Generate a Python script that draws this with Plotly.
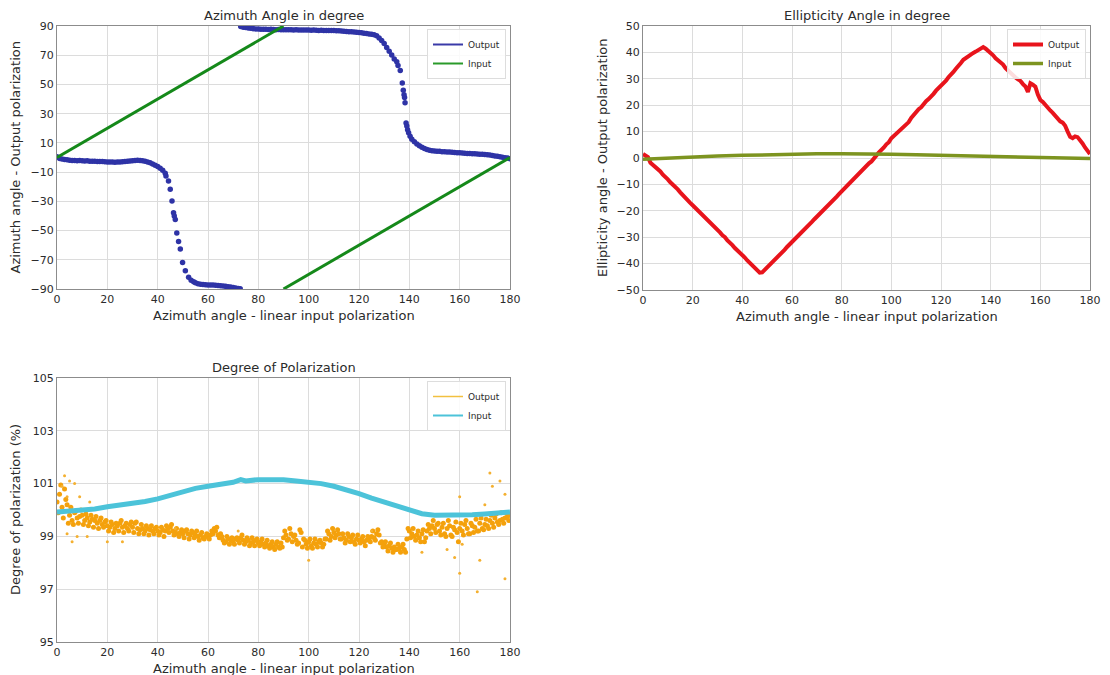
import plotly.graph_objects as go

# ---------------- Azimuth angle ----------------
# linear input polarization (wrapped to [-90, 90])
az_in_x = [0, 90, None, 90, 180]
az_in_y = [0, 90, None, -90, 0]

# measured output azimuth
az_out_x = [
    0, 1, 2, 3, 4, 5, 6, 7, 8, 9,
    10, 11, 12, 13, 14, 15, 16, 17, 18, 19,
    20, 21, 22, 23, 24, 25, 26, 27, 28, 29,
    30, 31, 32, 33, 34, 35, 36, 37, 38, 39,
    40, 41, 42, 43, 43.3, 44.3, 45, 45.7, 46.3, 46.6,
    47, 47.6, 48.3, 49, 49.9, 51, 52.3, 53.3, 54.3, 55,
    56, 57, 58, 59, 60, 61, 62, 63, 64, 65,
    66, 67, 68, 69, 70, 71, 72, 72.8, 73, 74,
    75, 76, 77, 78, 79, 80, 81, 82, 83, 84,
    85, 86, 87, 88, 89, 90, 91, 92, 93, 94,
    95, 96, 97, 98, 99, 100, 101, 102, 103, 104,
    105, 106, 107, 108, 109, 110, 111, 112, 113, 114,
    115, 116, 117, 118, 119, 120, 121, 122, 123, 124,
    125, 126, 127, 128, 129, 130, 131, 132, 133, 134,
    135, 135.5, 136.4, 137.2, 137.6, 137.9, 138.1, 138.3, 138.7, 139,
    139.3, 139.7, 140.3, 141, 142, 143, 144, 145, 146, 147,
    148, 149, 150, 151, 152, 153, 154, 155, 156, 157,
    158, 159, 160, 161, 162, 163, 164, 165, 166, 167,
    168, 169, 170, 171, 172, 173, 174, 175, 176, 177,
    178, 179, 180,
]
az_out_y = [
    0.5, -0.6, -1.1, -1.4, -1.6, -1.8, -2.0, -2.0, -2.2, -2.1,
    -2.3, -2.4, -2.3, -2.5, -2.6, -2.5, -2.7, -2.8, -2.7, -2.9,
    -3.0, -3.1, -3.0, -3.2, -3.1, -3.0, -2.9, -2.8, -2.6, -2.4,
    -2.2, -2.0, -1.9, -2.0, -2.2, -2.5, -3.0, -3.6, -4.4, -5.3,
    -6.2, -7.3, -8.7, -10.8, -12.7, -16.0, -21.8, -29.8, -37.8, -40.0,
    -42.5, -51.6, -57.5, -62.7, -71.8, -77.5, -82.0, -84.0, -85.0, -85.8,
    -86.4, -86.7, -86.9, -87.1, -87.2, -87.3, -87.3, -87.5, -87.6, -87.8,
    -88.0, -88.2, -88.5, -88.7, -89.0, -89.3, -89.6, -89.9, 89.6, 89.2,
    88.9, 88.6, 88.4, 88.2, 88.0, 87.9, 87.8, 87.8, 87.7, 87.6,
    87.7, 87.6, 87.5, 87.6, 87.5, 87.4, 87.5, 87.4, 87.4, 87.3,
    87.4, 87.3, 87.2, 87.3, 87.2, 87.2, 87.1, 87.2, 87.1, 87.0,
    87.1, 87.0, 87.0, 86.9, 87.0, 86.9, 86.8, 86.7, 86.6, 86.4,
    86.3, 86.1, 86.0, 85.9, 85.7, 85.6, 85.3, 85.0, 84.8, 84.5,
    84.3, 84.0, 83.4, 81.8, 80.0, 78.0, 75.2, 72.8, 70.2, 67.5,
    65.5, 63.0, 59.5, 51.0, 46.0, 43.0, 41.0, 37.5, 23.6, 21.5,
    19.0, 17.0, 14.5, 12.5, 10.8, 9.3, 8.0, 7.0, 6.2, 5.5,
    5.0, 4.7, 4.5, 4.3, 4.2, 4.0, 3.9, 3.8, 3.7, 3.6,
    3.5, 3.3, 3.2, 3.0, 2.9, 2.8, 2.7, 2.6, 2.5, 2.4,
    2.3, 2.2, 2.1, 1.9, 1.7, 1.4, 1.1, 0.8, 0.5, 0.2,
    -0.1, -0.4, -0.8,
]

# ---------------- Ellipticity angle ----------------
ell_in_x = [0, 10, 20, 30, 40, 50, 60, 70, 80, 90, 95, 100, 110, 120, 130, 140, 150, 160, 170, 180]
ell_in_y = [-0.5, 0.0, 0.4, 0.8, 1.0, 1.3, 1.5, 1.6, 1.6, 1.6, 1.6, 1.4, 1.2, 1.0, 0.8, 0.6, 0.4, 0.1, -0.1, -0.2]

ell_out_x = list(range(0, 181))
ell_out_y = [
    1.5, 1.0, 0.3, -1.8, -2.6, -3.2, -4.3, -5.1, -6.3, -7.0,
    -8.1, -9.2, -10.0, -11.2, -11.9, -13.0, -14.1, -15.0, -15.8, -17.0,
    -17.9, -18.8, -20.0, -20.7, -21.8, -22.6, -23.6, -24.6, -25.4, -26.5,
    -27.4, -28.2, -29.3, -30.0, -31.2, -32.0, -33.0, -34.1, -34.9, -35.9,
    -36.9, -37.7, -38.8, -39.7, -40.6, -41.6, -42.6, -43.4, -43.3, -42.4,
    -41.4, -40.5, -39.4, -38.6, -37.5, -36.7, -35.6, -34.8, -33.7, -32.8,
    -31.9, -30.8, -30.0, -28.9, -28.0, -27.1, -26.0, -25.2, -24.2, -23.2,
    -22.3, -21.3, -20.4, -19.5, -18.4, -17.6, -16.5, -15.6, -14.6, -13.6,
    -12.6, -11.8, -10.7, -9.8, -8.8, -7.9, -6.9, -6.0, -5.0, -4.1,
    -3.1, -2.0, -1.3, 0.1, 1.0, 2.1, 2.9, 4.0, 5.2, 6.0,
    7.5, 8.4, 9.0, 10.2, 11.0, 11.8, 12.9, 13.6, 15.2, 16.4,
    17.3, 18.5, 19.2, 20.5, 21.5, 22.3, 23.6, 24.3, 25.5, 26.4,
    27.4, 28.5, 29.3, 30.6, 31.4, 32.6, 33.8, 34.7, 36.0, 37.2,
    37.9, 38.6, 39.4, 39.8, 40.3, 40.9, 41.5, 42.0, 41.4, 40.7,
    39.8, 38.9, 37.8, 37.0, 36.1, 35.4, 34.0, 33.0, 32.1, 31.2,
    30.5, 29.8, 29.2, 28.0, 27.1, 25.0, 28.3, 27.8, 27.0, 24.0,
    22.0, 21.2, 20.0, 19.1, 18.0, 17.1, 16.0, 15.0, 13.9, 13.4,
    12.2, 10.0, 8.0, 7.5, 8.2, 7.9, 6.8, 5.5, 4.0, 2.8,
    1.5,
]

# ---------------- Degree of polarization ----------------
dop_in_x = [0, 5, 10, 15, 20, 25, 30, 35, 40, 45, 50, 55, 60, 65, 70, 73, 75, 80, 85, 90,
            95, 100, 105, 110, 115, 120, 125, 130, 135, 140, 145, 150, 155, 160, 165, 170, 175, 180]
dop_in_y = [99.92, 99.95, 99.98, 100.04, 100.12, 100.18, 100.25, 100.32, 100.42, 100.55,
            100.7, 100.82, 100.9, 100.98, 101.05, 101.15, 101.1, 101.15, 101.17, 101.15,
            101.1, 101.07, 101.0, 100.9, 100.78, 100.62, 100.45, 100.3, 100.15, 100.0,
            99.86, 99.8, 99.8, 99.8, 99.82, 99.85, 99.88, 99.92]

# output DOP sampled on whole degrees ...
dop_out_x = list(range(0, 181))
dop_out_y = [
    100.3, 100.6, 100.1, 100.8, 100.2, 99.8, 99.6, 99.9, 99.7, 99.75,
    99.8, 99.6, 99.7, 99.55, 99.65, 99.6, 99.5, 99.6, 99.45, 99.55,
    99.4, 99.35, 99.45, 99.3, 99.4, 99.5, 99.35, 99.4, 99.3, 99.45,
    99.35, 99.5, 99.3, 99.25, 99.3, 99.2, 99.3, 99.25, 99.2, 99.3,
    99.2, 99.15, 99.25, 99.2, 99.3, 99.35, 99.2, 99.15, 99.1, 99.15,
    99.1, 99.2, 99.1, 99.05, 99.15, 99.05, 99.0, 99.05, 98.95, 99.0,
    99.0, 99.05, 99.1, 99.2, 99.05, 99.1, 98.85, 98.8, 98.9, 98.85,
    98.8, 98.9, 98.85, 98.95, 98.85, 98.8, 98.85, 98.75, 98.8, 98.85,
    98.75, 98.8, 98.7, 98.75, 98.65, 98.7, 98.6, 98.7, 98.6, 98.75,
    98.95, 99.05, 98.9, 99.1, 99.0, 98.85, 98.75, 99.15, 98.9, 98.7,
    98.8, 98.65, 98.75, 98.7, 98.8, 98.75, 98.7, 98.9, 99.1, 99.0,
    99.15, 99.05, 99.1, 98.9, 98.95, 98.85, 99.0, 98.95, 98.8, 98.9,
    98.85, 98.9, 98.8, 98.85, 98.9, 99.0, 98.95, 99.1, 99.05, 98.8,
    98.7, 98.6, 98.65, 98.55, 98.6, 98.5, 98.55, 98.6, 98.5, 98.9,
    99.2, 99.1, 99.0, 99.05, 98.95, 99.1, 98.8, 99.2, 99.3, 99.4,
    99.3, 99.45, 99.2, 99.35, 99.1, 99.3, 99.4, 99.0, 99.25, 99.15,
    99.3, 99.2, 99.45, 99.3, 99.1, 99.4, 99.35, 99.2, 99.5, 99.3,
    99.45, 99.4, 99.6, 99.5, 99.7, 99.55, 99.6, 99.65, 99.7, 99.75,
    99.8,
]
# ... and on half degrees
dop_half_x = [k + 0.5 for k in range(0, 180)]
dop_half_y = [
    99.9, 100.95, 99.7, 100.4, 99.5, 100.1, 99.45, 99.95, 99.5, 100.0,
    99.45, 99.85, 99.4, 99.8, 99.35, 99.75, 99.3, 99.7, 99.35, 99.6,
    99.2, 99.55, 99.15, 99.5, 99.2, 99.6, 99.15, 99.5, 99.2, 99.55,
    99.15, 99.55, 99.1, 99.45, 99.1, 99.4, 99.05, 99.4, 99.1, 99.35,
    99.05, 99.35, 99.0, 99.4, 99.15, 99.45, 99.05, 99.3, 99.0, 99.25,
    98.95, 99.25, 98.9, 99.2, 98.95, 99.2, 98.85, 99.15, 98.9, 99.1,
    98.9, 99.2, 99.3, 99.35, 98.95, 99.0, 98.75, 99.0, 98.7, 98.95,
    98.7, 98.95, 98.75, 99.05, 98.7, 98.95, 98.65, 98.95, 98.65, 98.9,
    98.65, 98.9, 98.6, 98.85, 98.55, 98.8, 98.5, 98.8, 98.55, 98.6,
    99.2, 98.85, 99.3, 98.8, 99.05, 98.7, 99.25, 98.6, 98.85, 98.55,
    98.9, 98.55, 98.9, 98.6, 98.85, 98.6, 98.9, 99.2, 98.85, 99.3,
    98.95, 99.25, 98.9, 99.1, 98.75, 99.1, 98.8, 99.05, 98.7, 99.05,
    98.75, 99.0, 98.65, 99.0, 98.8, 99.2, 98.85, 99.25, 98.75, 98.6,
    98.8, 98.45, 98.75, 98.4, 98.5, 98.7, 98.4, 98.7, 98.4, 99.3,
    98.95, 99.3, 98.85, 99.2, 98.8, 99.25, 98.95, 99.45, 99.1, 99.6,
    99.15, 99.5, 99.05, 99.5, 99.0, 99.6, 99.05, 99.35, 99.55, 98.8,
    99.5, 99.05, 99.6, 99.1, 99.5, 99.15, 99.65, 99.2, 99.7, 99.25,
    99.65, 99.3, 99.8, 99.35, 99.85, 99.45, 99.9, 99.5, 99.9, 99.6,
]
# isolated readings away from the main band
dop_out_extra_x = [2, 3, 4, 5, 7, 9, 13, 6, 12, 20, 26, 47, 72, 100, 125, 145, 155,
                   158, 160, 160, 165, 167, 168, 172, 173, 176, 178, 178, 4, 8, 161, 170]
dop_out_extra_y = [100.9, 101.3, 100.5, 101.1, 101.0, 100.5, 100.3, 98.8, 99.0, 98.8, 98.8,
                   99.3, 99.2, 98.1, 99.2, 98.4, 98.5, 98.2, 97.6, 100.5, 99.8, 96.9,
                   98.1, 101.4, 100.9, 101.1, 97.4, 100.6, 99.1, 99.0, 98.7, 100.2]

x_ticks = [0, 20, 40, 60, 80, 100, 120, 140, 160, 180]
az_ticks = [-90, -70, -50, -30, -10, 10, 30, 50, 70, 90]
ell_ticks = [-50, -40, -30, -20, -10, 0, 10, 20, 30, 40, 50]
dop_ticks = [95, 97, 99, 101, 103, 105]

FONT = "DejaVu Sans"
TXT = "#2b2b2b"
W, H = 1110, 675

fig = go.Figure()

# --- panel 1: azimuth
fig.add_trace(go.Scatter(x=az_out_x, y=az_out_y, mode="markers", xaxis="x", yaxis="y",
                         marker=dict(color="#2e33a6", size=5.5), showlegend=False))
fig.add_trace(go.Scatter(x=az_in_x, y=az_in_y, mode="lines", xaxis="x", yaxis="y",
                         line=dict(color="#15891a", width=3), showlegend=False))
fig.add_trace(go.Scatter(x=[None], y=[None], mode="lines", name="Output", xaxis="x", yaxis="y",
                         line=dict(color="#3a3aa8", width=2), legend="legend"))
fig.add_trace(go.Scatter(x=[None], y=[None], mode="lines", name="Input", xaxis="x", yaxis="y",
                         line=dict(color="#2a9a2a", width=2), legend="legend"))

# --- panel 2: ellipticity
fig.add_trace(go.Scatter(x=ell_out_x, y=ell_out_y, mode="lines", name="Output", xaxis="x2", yaxis="y2",
                         line=dict(color="#e8141c", width=4), legend="legend2"))
fig.add_trace(go.Scatter(x=ell_in_x, y=ell_in_y, mode="lines", name="Input", xaxis="x2", yaxis="y2",
                         line=dict(color="#7d9420", width=3.5), legend="legend2"))

# --- panel 3: degree of polarization
for xs, ys in ((dop_out_x, dop_out_y), (dop_half_x, dop_half_y)):
    fig.add_trace(go.Scatter(x=xs, y=ys, mode="markers", xaxis="x3", yaxis="y3",
                             marker=dict(color="#f4a10c", size=5), showlegend=False))
fig.add_trace(go.Scatter(x=dop_out_extra_x, y=dop_out_extra_y, mode="markers", xaxis="x3", yaxis="y3",
                         marker=dict(color="#f4b030", size=3), showlegend=False))
fig.add_trace(go.Scatter(x=dop_in_x, y=dop_in_y, mode="lines", xaxis="x3", yaxis="y3",
                         line=dict(color="#4cc3d9", width=5), showlegend=False))
fig.add_trace(go.Scatter(x=[None], y=[None], mode="lines", name="Output", xaxis="x3", yaxis="y3",
                         line=dict(color="#f2c040", width=1.5), legend="legend3"))
fig.add_trace(go.Scatter(x=[None], y=[None], mode="lines", name="Input", xaxis="x3", yaxis="y3",
                         line=dict(color="#4cc3d9", width=2), legend="legend3"))

# plot areas in pixels: (left, right, top, bottom)
boxes = {
    "1": (57, 510, 26, 289),
    "2": (643, 1090, 26, 290),
    "3": (57, 510, 378, 642),
}


def xdom(b):
    return [b[0] / W, b[1] / W]


def ydom(b):
    return [1 - b[3] / H, 1 - b[2] / H]


axis_common = dict(showgrid=True, gridcolor="#dcdcdc", gridwidth=1, zeroline=False,
                   showline=True, linecolor="#8c8c8c", linewidth=1.2, mirror=True,
                   ticks="", automargin=False,
                   tickfont=dict(family=FONT, size=11, color=TXT))

layout = dict(
    template="none",
    width=W, height=H, margin=dict(l=0, r=0, t=0, b=0, pad=0), autosize=False,
    paper_bgcolor="white", plot_bgcolor="white",
    font=dict(family=FONT, color=TXT),
    xaxis=dict(domain=xdom(boxes["1"]), anchor="y", range=[0, 180], tickvals=x_ticks, **axis_common),
    yaxis=dict(domain=ydom(boxes["1"]), anchor="x", range=[-90, 90], tickvals=az_ticks, **axis_common),
    xaxis2=dict(domain=xdom(boxes["2"]), anchor="y2", range=[0, 180], tickvals=x_ticks, **axis_common),
    yaxis2=dict(domain=ydom(boxes["2"]), anchor="x2", range=[-50, 50], tickvals=ell_ticks, **axis_common),
    xaxis3=dict(domain=xdom(boxes["3"]), anchor="y3", range=[0, 180], tickvals=x_ticks, **axis_common),
    yaxis3=dict(domain=ydom(boxes["3"]), anchor="x3", range=[95, 105], tickvals=dop_ticks, **axis_common),
)

legend_common = dict(xanchor="right", yanchor="top", bgcolor="rgba(255,255,255,0.85)",
                     bordercolor="#dddddd", borderwidth=1,
                     font=dict(family=FONT, size=9, color=TXT), tracegroupgap=0, itemwidth=30)
layout["legend"] = dict(x=(boxes["1"][1] - 4) / W, y=1 - (boxes["1"][2] + 3) / H, **legend_common)
layout["legend2"] = dict(x=(boxes["2"][1] - 4) / W, y=1 - (boxes["2"][2] + 3) / H, **legend_common)
layout["legend3"] = dict(x=(boxes["3"][1] - 4) / W, y=1 - (boxes["3"][2] + 3) / H, **legend_common)

fig.update_layout(**layout)

titles = {
    "1": ("Azimuth Angle in degree", "Azimuth angle - Output polarization"),
    "2": ("Ellipticity Angle in degree", "Ellipticity angle - Output polarization"),
    "3": ("Degree of Polarization", "Degree of polarization (%)"),
}
ylabel_x = {"1": 15, "2": 602, "3": 15}
xlabel = "Azimuth angle - linear input polarization"

for k, b in boxes.items():
    cx = (b[0] + b[1]) / 2
    cy = (b[2] + b[3]) / 2
    title, ylab = titles[k]
    fig.add_annotation(x=cx / W, y=1 - (b[2] - 11) / H, xref="paper", yref="paper",
                       text=title, showarrow=False, xanchor="center", yanchor="middle",
                       font=dict(family=FONT, size=13, color=TXT))
    fig.add_annotation(x=cx / W, y=1 - (b[3] + 26) / H, xref="paper", yref="paper",
                       text=xlabel, showarrow=False, xanchor="center", yanchor="middle",
                       font=dict(family=FONT, size=13, color=TXT))
    fig.add_annotation(x=ylabel_x[k] / W, y=1 - cy / H, xref="paper", yref="paper",
                       text=ylab, showarrow=False, textangle=-90, xanchor="center", yanchor="middle",
                       font=dict(family=FONT, size=13, color=TXT))

fig.write_html("out.html")
